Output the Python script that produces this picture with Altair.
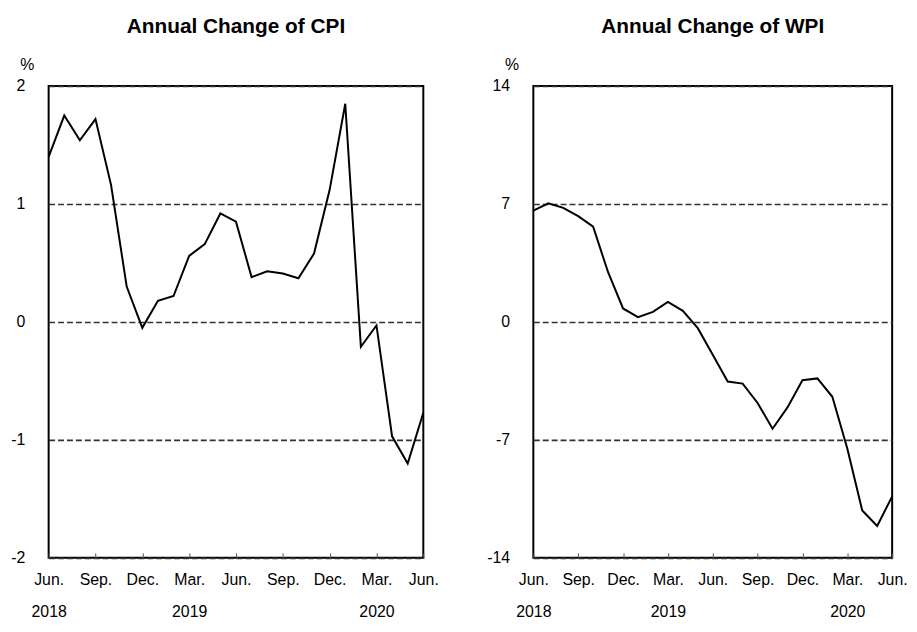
import altair as alt
import pandas as pd

months = ["2018-06", "2018-07", "2018-08", "2018-09", "2018-10", "2018-11", "2018-12",
          "2019-01", "2019-02", "2019-03", "2019-04", "2019-05", "2019-06", "2019-07",
          "2019-08", "2019-09", "2019-10", "2019-11", "2019-12",
          "2020-01", "2020-02", "2020-03", "2020-04", "2020-05", "2020-06"]

cpi = [1.40, 1.75, 1.54, 1.72, 1.16, 0.30, -0.05, 0.18, 0.22, 0.56, 0.66, 0.92, 0.85,
       0.38, 0.43, 0.41, 0.37, 0.58, 1.12, 1.85, -0.21, -0.03, -0.97, -1.20, -0.77]

wpi = [6.61, 7.04, 6.77, 6.28, 5.65, 2.95, 0.80, 0.28, 0.60, 1.19, 0.66, -0.37, -1.95,
       -3.54, -3.66, -4.81, -6.34, -5.07, -3.46, -3.35, -4.44, -7.51, -11.19, -12.11, -10.35]

tick_idx = [0, 3, 6, 9, 12, 15, 18, 21, 24]
tick_month = ["Jun.", "Sep.", "Dec.", "Mar.", "Jun.", "Sep.", "Dec.", "Mar.", "Jun."]
year_labels = {0: "2018", 9: "2019", 21: "2020"}

cpi_ticks = [-2, -1, 0, 1, 2]
wpi_ticks = [-14, -7, 0, 7, 14]

FONT = "Liberation Sans"
LABEL_SIZE = 16


def label_expr():
    parts = []
    for i, m in zip(tick_idx, tick_month):
        if i in year_labels:
            lab = "['%s', '%s']" % (m, year_labels[i])
        else:
            lab = "'%s'" % m
        parts.append("datum.value == %d ? %s : " % (i, lab))
    return "".join(parts) + "''"


def panel(values, title, ticks, width):
    df = pd.DataFrame({"idx": list(range(len(months))), "month": months, "v": values})
    x = alt.X(
        "idx:Q",
        scale=alt.Scale(domain=[0, len(months) - 1], nice=False, zero=False),
        axis=alt.Axis(values=tick_idx, labelExpr=label_expr(), title=None, grid=False,
                      domain=False, tickSize=5, offset=-5, tickColor="#555555",
                      tickWidth=1, labelPadding=14, labelLineHeight=32,
                      labelOverlap=False, labelFlush=False, labelFontSize=LABEL_SIZE,
                      labelFont=FONT, labelColor="black"),
    )
    y = alt.Y(
        "v:Q",
        scale=alt.Scale(domain=[ticks[0], ticks[-1]], nice=False, zero=False),
        axis=alt.Axis(values=ticks, labelExpr="'' + datum.value", title="%",
                      titleAngle=0, titleX=-22, titleY=-17, titleAlign="center",
                      titleBaseline="alphabetic", titleFontWeight="normal",
                      titleFontSize=LABEL_SIZE, titleFont=FONT, titleColor="black",
                      ticks=False, domain=False, labelPadding=24,
                      labelFontSize=LABEL_SIZE, labelFont=FONT, labelColor="black",
                      grid=True, gridDash=[6, 3], gridColor="#333333", gridWidth=1.6),
    )
    return (
        alt.Chart(df)
        .mark_line(color="black", strokeWidth=2)
        .encode(x=x, y=y)
        .properties(
            width=width,
            height=476,
            title=alt.TitleParams(title, font=FONT, fontSize=21, fontWeight="bold",
                                  color="black", anchor="middle", frame="group",
                                  baseline="alphabetic", offset=3),
        )
    )


left = panel(cpi, "Annual Change of CPI", cpi_ticks, 378)
right = panel(wpi, "Annual Change of WPI", wpi_ticks, 362)

chart = (
    alt.hconcat(left, right, spacing=45)
    .properties(padding={"left": 1, "top": 4, "right": 0, "bottom": 0})
    .configure(background="white")
    .configure_view(stroke="black", strokeWidth=2)
)

chart.save("out.html", embed_options={"renderer": "svg", "actions": False})
